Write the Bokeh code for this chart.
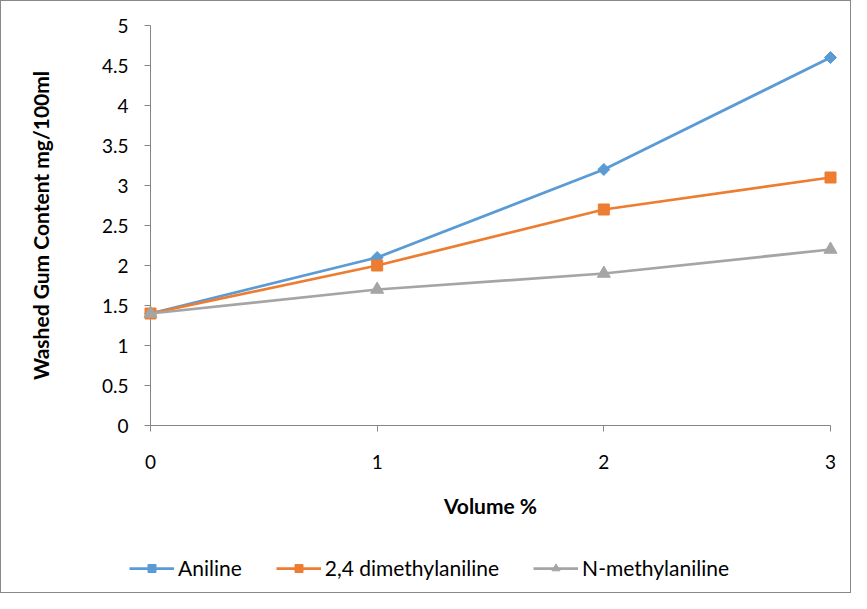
from bokeh.plotting import figure
from bokeh.models import Range1d, Legend, LegendItem, FixedTicker
from bokeh.layouts import column
from bokeh.embed import file_html
from bokeh.resources import INLINE

volume = [0, 1, 2, 3]
aniline = [1.4, 2.1, 3.2, 4.6]
dimethyl = [1.4, 2.0, 2.7, 3.1]
nmethyl = [1.4, 1.7, 1.9, 2.2]
series_names = ["Aniline", "2,4 dimethylaniline", "N-methylaniline"]
y_ticks = [0, 0.5, 1, 1.5, 2, 2.5, 3, 3.5, 4, 4.5, 5]
y_tick_labels = ["0", "0.5", "1", "1.5", "2", "2.5", "3", "3.5", "4", "4.5", "5"]
x_ticks = [0, 1, 2, 3]

FONT = "Lato"
AXIS = "#868686"

p = figure(width=849, height=519, output_backend="svg", toolbar_location=None,
           x_range=Range1d(0, 3), y_range=Range1d(0, 5),
           min_border_left=149, min_border_right=20, min_border_top=24, min_border_bottom=95)
p.outline_line_color = None
p.xgrid.visible = False
p.ygrid.visible = False

for ax in (p.xaxis[0], p.yaxis[0]):
    ax.axis_line_color = AXIS
    ax.major_tick_line_color = AXIS
    ax.minor_tick_line_color = None
    ax.major_tick_in = 0
    ax.major_tick_out = 6
    ax.major_label_text_font = FONT
    ax.major_label_text_font_size = "19px"
    ax.major_label_text_color = "black"
    ax.axis_label_text_font = FONT
    ax.axis_label_text_font_size = "21px"
    ax.axis_label_text_font_style = "bold"
    ax.axis_label_text_color = "black"

p.xaxis.ticker = FixedTicker(ticks=x_ticks)
p.yaxis.ticker = FixedTicker(ticks=y_ticks)
p.yaxis.major_label_overrides = {t: l for t, l in zip(y_ticks, y_tick_labels)}
p.xaxis.axis_label = "Volume %"
p.yaxis.axis_label = "Washed Gum Content mg/100ml"
p.xaxis.major_label_standoff = 23
p.xaxis.axis_label_standoff = 21
p.yaxis.major_label_standoff = 16
p.yaxis.axis_label_standoff = 46

colors = ["#5B9BD5", "#ED7D31", "#A5A5A5"]
data = [aniline, dimethyl, nmethyl]
markers = ["square", "square", "triangle"]
sizes = [8.5, 11, 13]
angles = [0.785398, 0, 0]

# legend strip below the chart (its renderers lie outside its view)
lf = figure(width=849, height=72, output_backend="svg", toolbar_location=None,
            x_range=Range1d(-20, -19), y_range=Range1d(-20, -19),
            x_axis_location=None, y_axis_location=None, min_border=0)
lf.outline_line_color = None
lf.xgrid.visible = False
lf.ygrid.visible = False
if "frame_align" in type(lf).properties():
    lf.frame_align = False
    legend_x = 128
else:
    legend_x = 0

items = []
for name, ys, c, m, s, a in zip(series_names, data, colors, markers, sizes, angles):
    p.line(volume, ys, line_color=c, line_width=2.75, level="overlay")
    p.scatter(volume, ys, marker=m, size=s, angle=a, fill_color=c, line_color=c, level="overlay")
    ll = lf.line(volume, ys, line_color=c, line_width=2.75)
    ls = lf.scatter(volume, ys, marker=m, size=s, angle=a, fill_color=c, line_color=c)
    items.append(LegendItem(label=name, renderers=[ll, ls]))

legend = Legend(items=items, orientation="horizontal", location=(legend_x, 12),
                label_text_font=FONT, label_text_font_size="21px", label_text_color="black",
                glyph_width=45, glyph_height=20, label_standoff=4, spacing=34,
                border_line_color=None, background_fill_alpha=0, margin=0, padding=5)
lf.add_layout(legend, "center")

layout = column(p, lf, spacing=0)
layout.styles = {"border": "1px solid #888888"}

open("out.html", "w").write(file_html(layout, INLINE))
